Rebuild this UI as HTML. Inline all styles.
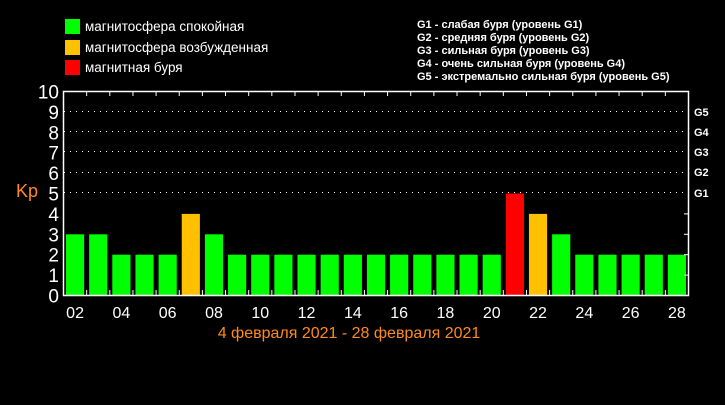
<!DOCTYPE html>
<html><head><meta charset="utf-8"><style>
body{margin:0;background:#000;width:725px;height:400px;overflow:hidden}
svg text{font-family:"Liberation Sans","DejaVu Sans",sans-serif}
</style></head><body>
<svg width="725" height="400" viewBox="0 0 725 400" xmlns="http://www.w3.org/2000/svg">
<rect width="725" height="400" fill="#000"/>
<rect x="65" y="19" width="15" height="15" fill="#00ff00"/>
<rect x="65" y="40" width="15" height="15" fill="#ffc000"/>
<rect x="65" y="60" width="15" height="15" fill="#ff0000"/>
<g fill="#fff" font-size="13.5">
<text x="85" y="31">магнитосфера спокойная</text>
<text x="85" y="52">магнитосфера возбужденная</text>
<text x="85" y="72">магнитная буря</text>
</g>
<g fill="#fff" font-size="11" font-weight="bold">
<text x="417" y="28">G1 - слабая буря (уровень G1)</text>
<text x="417" y="41">G2 - средняя буря (уровень G2)</text>
<text x="417" y="54">G3 - сильная буря (уровень G3)</text>
<text x="417" y="67">G4 - очень сильная буря (уровень G4)</text>
<text x="417" y="80">G5 - экстремально сильная буря (уровень G5)</text>
</g>
<g stroke="#fff" stroke-width="1" stroke-dasharray="1 5">
<line x1="64" y1="111.5" x2="688" y2="111.5"/>
<line x1="64" y1="131.5" x2="688" y2="131.5"/>
<line x1="64" y1="151.5" x2="688" y2="151.5"/>
<line x1="64" y1="172.5" x2="688" y2="172.5"/>
<line x1="64" y1="192.5" x2="688" y2="192.5"/>
</g>
<g id="bars"></g>
<rect x="63.5" y="91.5" width="625" height="204" fill="none" stroke="#fff" stroke-width="1.5"/>
<g id="ticks" stroke="#fff" stroke-width="1"></g>
<g fill="#fff" font-size="19" text-anchor="end" id="ylab"></g>
<text x="16" y="197" fill="#ff8c1a" font-size="18">Kp</text>
<g fill="#fff" font-size="11" font-weight="bold">
<text x="694" y="116">G5</text>
<text x="694" y="136">G4</text>
<text x="694" y="156">G3</text>
<text x="694" y="176">G2</text>
<text x="694" y="197">G1</text>
</g>
<g fill="#fff" font-size="16" text-anchor="middle" id="xlab"></g>
<text x="349" y="338" fill="#ff8c1a" font-size="16" text-anchor="middle">4 февраля 2021 - 28 февраля 2021</text>
</svg>
<script>
var v=[3,3,2,2,2,4,3,2,2,2,2,2,2,2,2,2,2,2,2,5,4,3,2,2,2,2,2];
var ns="http://www.w3.org/2000/svg",b=document.getElementById('bars'),t=document.getElementById('ticks'),xl=document.getElementById('xlab'),yl=document.getElementById('ylab');
var x0=63.5,w=625/27,y0=295.5,u=20.4;
function el(p,n,a,txt){var e=document.createElementNS(ns,n);for(var k in a)e.setAttribute(k,a[k]);if(txt)e.textContent=txt;p.appendChild(e);}
v.forEach(function(k,i){var c=k>=5?'#ff0000':k==4?'#ffc000':'#00ff00';
el(b,'rect',{x:x0+i*w+2.5,y:y0-k*u,width:w-5,height:k*u,fill:c});
if(i%2==0){var d=i+2;el(xl,'text',{x:x0+i*w+w/2,y:318},(d<10?'0':'')+d);}
if(i>0){var x=x0+i*w;el(t,'line',{x1:x,y1:91,x2:x,y2:96});el(t,'line',{x1:x,y1:295,x2:x,y2:290});}
});
for(var k=1;k<5;k++){el(t,'line',{x1:684,y1:y0-k*u,x2:689,y2:y0-k*u});}
for(var k=0;k<=10;k++){el(yl,'text',{x:59,y:y0-k*u+7},''+k);}
</script>
</body></html>
